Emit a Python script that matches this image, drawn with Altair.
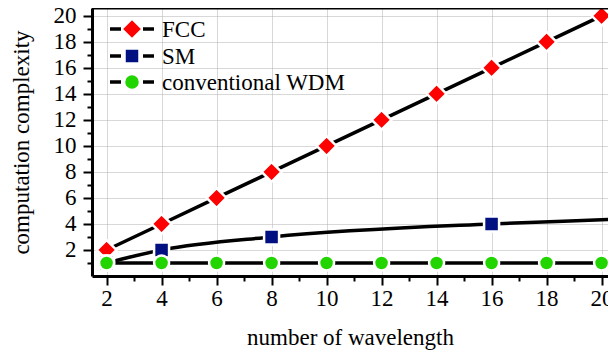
import altair as alt
import pandas as pd

# ---- data ----
wavelengths = [2, 4, 6, 8, 10, 12, 14, 16, 18, 20]
fcc_values = [2, 4, 6, 8, 10, 12, 14, 16, 18, 20]
wdm_values = [1, 1, 1, 1, 1, 1, 1, 1, 1, 1]
sm_line_x = [2, 4, 8, 16, 20, 20.5]
sm_line_y = [1, 2, 3, 4, 4.32, 4.36]
sm_marker_x = [2, 4, 8, 16]
sm_marker_y = [1, 2, 3, 4]

series_names = ["FCC", "SM", "conventional WDM"]
series_colors = ["#ff0000", "#001080", "#22d400"]
series_shapes = ["diamond", "square", "circle"]
series_sizes = [390, 225, 225]
legend_sizes = [390, 196, 225]

x_ticks = list(range(2, 21))
y_ticks = list(range(1, 21))

FONT = "Liberation Serif"
FS = 23

major_minor_tick = {"condition": {"test": "datum.value % 2 === 0", "value": 9}, "value": 5}
grid_op = {"condition": {"test": "datum.value % 2 === 0", "value": 1}, "value": 0}

PLOT_W = 516
PLOT_H = 268

x_enc = alt.X(
    "x:Q",
    scale=alt.Scale(domain=[1.47, 1.47 + PLOT_W / 27.5], nice=False, zero=False),
    axis=alt.Axis(
        values=x_ticks,
        labelExpr="datum.value % 2 === 0 ? datum.label : ''",
        title="number of wavelength",
        titleFont=FONT, titleFontSize=FS, titleFontWeight="normal", titleColor="black",
        titlePadding=16,
        labelFont=FONT, labelFontSize=FS, labelColor="black", labelPadding=2,
        labelFlush=False, labelOverlap=False,
        tickSize=major_minor_tick, tickWidth=2, tickColor="black",
        domainColor="black", domainWidth=3,
        grid=True, gridColor="#b0b0b0", gridDash=[1, 1], gridWidth=1, gridOpacity=grid_op,
    ),
)
y_enc = alt.Y(
    "y:Q",
    scale=alt.Scale(domain=[0, 20.6], nice=False, zero=False),
    axis=alt.Axis(
        values=y_ticks,
        labelExpr="datum.value % 2 === 0 ? datum.label : ''",
        title="computation complexity",
        titleFont=FONT, titleFontSize=FS, titleFontWeight="normal", titleColor="black",
        titlePadding=20,
        labelFont=FONT, labelFontSize=FS, labelColor="black", labelPadding=7,
        labelFlush=False, labelOverlap=False,
        tickSize=major_minor_tick, tickWidth=2, tickColor="black",
        domainColor="black", domainWidth=3,
        grid=True, gridColor="#b0b0b0", gridDash=[1, 1], gridWidth=1, gridOpacity=grid_op,
    ),
)

fcc_df = pd.DataFrame({"x": wavelengths, "y": fcc_values})
wdm_df = pd.DataFrame({"x": wavelengths, "y": wdm_values})
sm_line_df = pd.DataFrame({"x": sm_line_x, "y": sm_line_y})
sm_mark_df = pd.DataFrame({"x": sm_marker_x, "y": sm_marker_y})

layers = []
layers.append(alt.Chart(fcc_df).mark_line(color="black", strokeWidth=3.5).encode(x=x_enc, y=y_enc))
layers.append(alt.Chart(sm_line_df).mark_line(color="black", strokeWidth=3.5, interpolate="monotone", clip=True).encode(x=x_enc, y=y_enc))
layers.append(alt.Chart(wdm_df).mark_line(color="black", strokeWidth=3.5).encode(x=x_enc, y=y_enc))

for df, i in [(fcc_df, 0), (sm_mark_df, 1), (wdm_df, 2)]:
    layers.append(
        alt.Chart(df).mark_point(
            shape=series_shapes[i], filled=True, fill=series_colors[i], fillOpacity=1,
            stroke="white", strokeWidth=2.5, size=series_sizes[i], opacity=1,
        ).encode(x=x_enc, y=y_enc)
    )

# top frame line
frame_df = pd.DataFrame({"k": [0]})
layers.append(alt.Chart(frame_df).mark_rule(color="black", strokeWidth=3).encode(
    x=alt.value(0), x2=alt.value(PLOT_W), y=alt.value(0)))

# ---- legend (inside the plot, top-left) ----
legend_rows = [21, 48, 74]
for i, name in enumerate(series_names):
    ldf = pd.DataFrame({"name": [name]})
    yy = legend_rows[i]
    layers.append(alt.Chart(ldf).mark_rule(color="black", strokeWidth=3.5).encode(
        x=alt.value(18), x2=alt.value(29), y=alt.value(yy)))
    layers.append(alt.Chart(ldf).mark_rule(color="black", strokeWidth=3.5).encode(
        x=alt.value(51), x2=alt.value(62), y=alt.value(yy)))
    layers.append(alt.Chart(ldf).mark_point(
        shape=series_shapes[i], filled=True, fill=series_colors[i], fillOpacity=1,
        stroke="white", strokeWidth=1.5, size=legend_sizes[i], opacity=1,
    ).encode(x=alt.value(40), y=alt.value(yy)))
    layers.append(alt.Chart(ldf).mark_text(
        align="left", baseline="middle", font=FONT, fontSize=FS, color="black", dy=1,
    ).encode(x=alt.value(70), y=alt.value(yy), text="name:N"))

chart = alt.layer(*layers).properties(
    width=PLOT_W, height=PLOT_H,
    autosize=alt.AutoSizeParams(type="none"),
    padding={"left": 84, "top": 0, "right": 0, "bottom": 75},
).configure_view(stroke=None).configure(background="white")

chart.save("out.html", embed_options={"renderer": "svg", "actions": False})
